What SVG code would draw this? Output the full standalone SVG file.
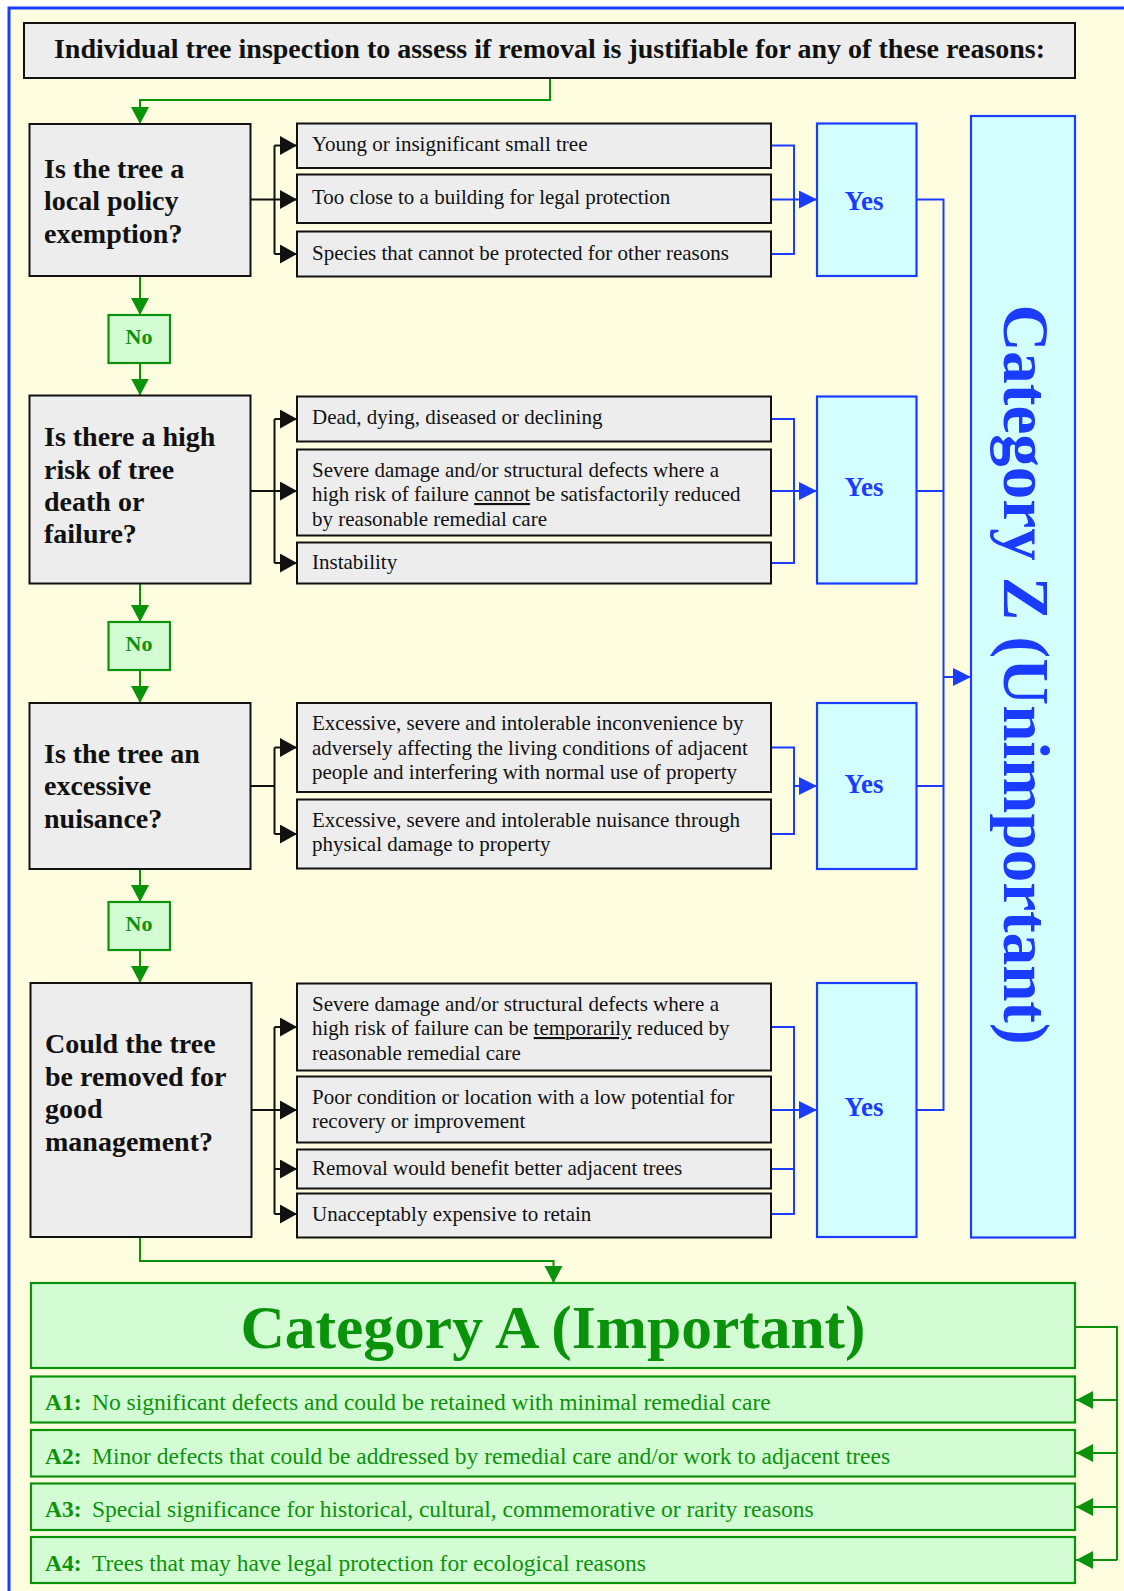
<svg xmlns="http://www.w3.org/2000/svg" width="1124" height="1591" viewBox="0 0 1124 1591">
<style>
text{font-family:"Liberation Serif","Times New Roman",serif}
.q{font-size:28px;font-weight:bold;fill:#111}
.hd{font-size:28px;font-weight:bold;fill:#111}
.o{font-size:21px;fill:#111}
.gbox{fill:#ededed;stroke:#111;stroke-width:2}
.ybox{fill:#d4ffff;stroke:#1a3cff;stroke-width:2.2}
.nbox{fill:#d4fcd4;stroke:#0a930a;stroke-width:2.2}
.yes{font-size:27px;font-weight:bold;fill:#1a3cff;text-anchor:middle}
.no{font-size:22px;font-weight:bold;fill:#0a930a;text-anchor:middle}
.ka{fill:none;stroke:#111;stroke-width:2}
.ba{fill:none;stroke:#1a3cff;stroke-width:2}
.ga{fill:none;stroke:#0a930a;stroke-width:2}
.at{font-size:23.5px;fill:#0a930a}
</style>
<defs>
<marker id="mk" markerUnits="userSpaceOnUse" markerWidth="18" markerHeight="20" refX="17" refY="9.5" orient="auto"><path d="M0,0 L17,9.5 L0,19 z" fill="#111"/></marker>
<marker id="mb" markerUnits="userSpaceOnUse" markerWidth="19" markerHeight="19" refX="18" refY="9" orient="auto"><path d="M0,0 L18,9 L0,18 z" fill="#1a3cff"/></marker>
<marker id="mg" markerUnits="userSpaceOnUse" markerWidth="19" markerHeight="19" refX="17" refY="9" orient="auto"><path d="M0,0 L17,9 L0,18 z" fill="#0a930a"/></marker>
</defs>
<rect x="0" y="0" width="1124" height="1591" fill="#ffffff"/>
<rect x="9" y="8" width="1200" height="1700" fill="#fffde0" stroke="#1a3cff" stroke-width="3"/>

<g id="connectors">
<path class="ga" d="M550,78 V100 H140 V124" marker-end="url(#mg)"/>
<path class="ka" d="M251,199.5 H274.5 M274.5,145.5 V254"/>
<path class="ka" d="M274.5,145.5 H297" marker-end="url(#mk)"/>
<path class="ka" d="M274.5,199.5 H297" marker-end="url(#mk)"/>
<path class="ka" d="M274.5,254 H297" marker-end="url(#mk)"/>
<path class="ba" d="M771,145.5 H794 V254 H771 M771,199.5 H794"/>
<path class="ba" d="M794,199.5 H817" marker-end="url(#mb)"/>
<path class="ga" d="M140,276 V315" marker-end="url(#mg)"/>
<path class="ga" d="M140,363 V395.5" marker-end="url(#mg)"/>
<path class="ka" d="M251,491 H274.5 M274.5,419 V563"/>
<path class="ka" d="M274.5,419 H297" marker-end="url(#mk)"/>
<path class="ka" d="M274.5,491 H297" marker-end="url(#mk)"/>
<path class="ka" d="M274.5,563 H297" marker-end="url(#mk)"/>
<path class="ba" d="M771,419 H794 V563 H771 M771,491 H794"/>
<path class="ba" d="M794,491 H817" marker-end="url(#mb)"/>
<path class="ga" d="M140,583.5 V622" marker-end="url(#mg)"/>
<path class="ga" d="M140,670 V703" marker-end="url(#mg)"/>
<path class="ka" d="M251,786 H274.5 M274.5,747.5 V834"/>
<path class="ka" d="M274.5,747.5 H297" marker-end="url(#mk)"/>
<path class="ka" d="M274.5,834 H297" marker-end="url(#mk)"/>
<path class="ba" d="M771,747.5 H794 V834 H771"/>
<path class="ba" d="M794,786 H817" marker-end="url(#mb)"/>
<path class="ga" d="M140,869 V902" marker-end="url(#mg)"/>
<path class="ga" d="M140,950 V983" marker-end="url(#mg)"/>
<path class="ka" d="M251.5,1110 H274.5 M274.5,1027 V1214"/>
<path class="ka" d="M274.5,1027 H297" marker-end="url(#mk)"/>
<path class="ka" d="M274.5,1110 H297" marker-end="url(#mk)"/>
<path class="ka" d="M274.5,1169 H297" marker-end="url(#mk)"/>
<path class="ka" d="M274.5,1214 H297" marker-end="url(#mk)"/>
<path class="ba" d="M771,1027 H794 V1214 H771 M771,1110 H794 M771,1169 H794"/>
<path class="ba" d="M794,1110 H817" marker-end="url(#mb)"/>
<path class="ba" d="M916.5,199.5 H943.5 V1110 H916.5 M916.5,491 H943.5 M916.5,786 H943.5"/>
<path class="ba" d="M943.5,677 H971" marker-end="url(#mb)"/>
<path class="ga" d="M140,1237 V1261 H553.5 V1283" marker-end="url(#mg)"/>
<path class="ga" d="M1075,1327 H1117 V1560"/>
<path class="ga" d="M1117,1400 H1076" marker-end="url(#mg)"/>
<path class="ga" d="M1117,1453 H1076" marker-end="url(#mg)"/>
<path class="ga" d="M1117,1507 H1076" marker-end="url(#mg)"/>
<path class="ga" d="M1117,1560 H1076" marker-end="url(#mg)"/>
</g>

<g id="header">
<rect class="gbox" x="24" y="23" width="1051" height="55"/>
<text class="hd" x="549.5" y="57.5" text-anchor="middle">Individual tree inspection to assess if removal is justifiable for any of these reasons:</text>
</g>

<g id="q1">
<rect class="gbox" x="29.5" y="124" width="221" height="152"/>
<text class="q" x="44" y="177.5">Is the tree a</text>
<text class="q" x="44" y="210">local policy</text>
<text class="q" x="44" y="242.5">exemption?</text>
</g>
<g id="q1o1"><rect class="gbox" x="297" y="123.5" width="474" height="44.5"/><text class="o" x="312" y="150.5">Young or insignificant small tree</text></g>
<g id="q1o2"><rect class="gbox" x="297" y="174.5" width="474" height="48.5"/><text class="o" x="312" y="203.5">Too close to a building for legal protection</text></g>
<g id="q1o3"><rect class="gbox" x="297" y="231.5" width="474" height="45"/><text class="o" x="312" y="259.5">Species that cannot be protected for other reasons</text></g>
<g id="yes1"><rect class="ybox" x="817" y="123.5" width="99.5" height="152.5"/><text class="yes" x="864" y="210">Yes</text></g>
<g id="no1"><rect class="nbox" x="108.5" y="315" width="61.5" height="48"/><text class="no" x="139" y="344">No</text></g>

<g id="q2">
<rect class="gbox" x="29.5" y="395.5" width="221" height="188"/>
<text class="q" x="44" y="446">Is there a high</text>
<text class="q" x="44" y="478.5">risk of tree</text>
<text class="q" x="44" y="511">death or</text>
<text class="q" x="44" y="543">failure?</text>
</g>
<g id="q2o1"><rect class="gbox" x="297" y="396.5" width="474" height="45"/><text class="o" x="312" y="424">Dead, dying, diseased or declining</text></g>
<g id="q2o2"><rect class="gbox" x="297" y="449.5" width="474" height="86"/>
<text class="o" x="312" y="476.5">Severe damage and/or structural defects where a</text>
<text class="o" x="312" y="501">high risk of failure <tspan text-decoration="underline">cannot</tspan> be satisfactorily reduced</text>
<text class="o" x="312" y="525.5">by reasonable remedial care</text></g>
<g id="q2o3"><rect class="gbox" x="297" y="542.5" width="474" height="41"/><text class="o" x="312" y="569">Instability</text></g>
<g id="yes2"><rect class="ybox" x="817" y="396.5" width="99.5" height="187"/><text class="yes" x="864" y="496">Yes</text></g>
<g id="no2"><rect class="nbox" x="108.5" y="622" width="61.5" height="48"/><text class="no" x="139" y="651">No</text></g>

<g id="q3">
<rect class="gbox" x="29.5" y="703" width="221" height="166"/>
<text class="q" x="44" y="762.5">Is the tree an</text>
<text class="q" x="44" y="795">excessive</text>
<text class="q" x="44" y="827.5">nuisance?</text>
</g>
<g id="q3o1"><rect class="gbox" x="297" y="703" width="474" height="89"/>
<text class="o" x="312" y="730">Excessive, severe and intolerable inconvenience by</text>
<text class="o" x="312" y="754.5">adversely affecting the living conditions of adjacent</text>
<text class="o" x="312" y="779">people and interfering with normal use of property</text></g>
<g id="q3o2"><rect class="gbox" x="297" y="799.5" width="474" height="69"/>
<text class="o" x="312" y="826.5">Excessive, severe and intolerable nuisance through</text>
<text class="o" x="312" y="851">physical damage to property</text></g>
<g id="yes3"><rect class="ybox" x="817" y="703" width="99.5" height="166"/><text class="yes" x="864" y="793">Yes</text></g>
<g id="no3"><rect class="nbox" x="108.5" y="902" width="61.5" height="48"/><text class="no" x="139" y="931">No</text></g>

<g id="q4">
<rect class="gbox" x="30.5" y="983" width="221" height="254"/>
<text class="q" x="45" y="1053">Could the tree</text>
<text class="q" x="45" y="1085.5">be removed for</text>
<text class="q" x="45" y="1118">good</text>
<text class="q" x="45" y="1150.5">management?</text>
</g>
<g id="q4o1"><rect class="gbox" x="297" y="983.5" width="474" height="87"/>
<text class="o" x="312" y="1010.5">Severe damage and/or structural defects where a</text>
<text class="o" x="312" y="1035">high risk of failure can be <tspan text-decoration="underline">temporarily</tspan> reduced by</text>
<text class="o" x="312" y="1059.5">reasonable remedial care</text></g>
<g id="q4o2"><rect class="gbox" x="297" y="1076.5" width="474" height="66"/>
<text class="o" x="312" y="1103.5">Poor condition or location with a low potential for</text>
<text class="o" x="312" y="1128">recovery or improvement</text></g>
<g id="q4o3"><rect class="gbox" x="297" y="1149.5" width="474" height="39"/><text class="o" x="312" y="1175">Removal would benefit better adjacent trees</text></g>
<g id="q4o4"><rect class="gbox" x="297" y="1193.5" width="474" height="44"/><text class="o" x="312" y="1221">Unacceptably expensive to retain</text></g>
<g id="yes4"><rect class="ybox" x="817" y="983" width="99.5" height="254"/><text class="yes" x="864" y="1116">Yes</text></g>

<g id="catZ">
<rect class="ybox" x="971" y="116" width="104" height="1121.5"/>
<text transform="translate(1004,674.5) rotate(90)" text-anchor="middle" style="font-size:65px;font-weight:bold;fill:#1a3cff">Category Z (Unimportant)</text>
</g>

<g id="catA">
<rect class="nbox" x="31" y="1283" width="1044" height="85"/>
<text x="553" y="1348" text-anchor="middle" style="font-size:61.5px;font-weight:bold;fill:#0a930a">Category A (Important)</text>
</g>
<g id="a1"><rect class="nbox" x="31" y="1376.5" width="1044" height="46"/><text class="at" x="45" y="1410"><tspan font-weight="bold">A1:</tspan><tspan x="92">No significant defects and could be retained with minimal remedial care</tspan></text></g>
<g id="a2"><rect class="nbox" x="31" y="1430" width="1044" height="46.5"/><text class="at" x="45" y="1463.5"><tspan font-weight="bold">A2:</tspan><tspan x="92">Minor defects that could be addressed by remedial care and/or work to adjacent trees</tspan></text></g>
<g id="a3"><rect class="nbox" x="31" y="1483.5" width="1044" height="46.5"/><text class="at" x="45" y="1517"><tspan font-weight="bold">A3:</tspan><tspan x="92">Special significance for historical, cultural, commemorative or rarity reasons</tspan></text></g>
<g id="a4"><rect class="nbox" x="31" y="1537" width="1044" height="46"/><text class="at" x="45" y="1571"><tspan font-weight="bold">A4:</tspan><tspan x="92">Trees that may have legal protection for ecological reasons</tspan></text></g>
</svg>
